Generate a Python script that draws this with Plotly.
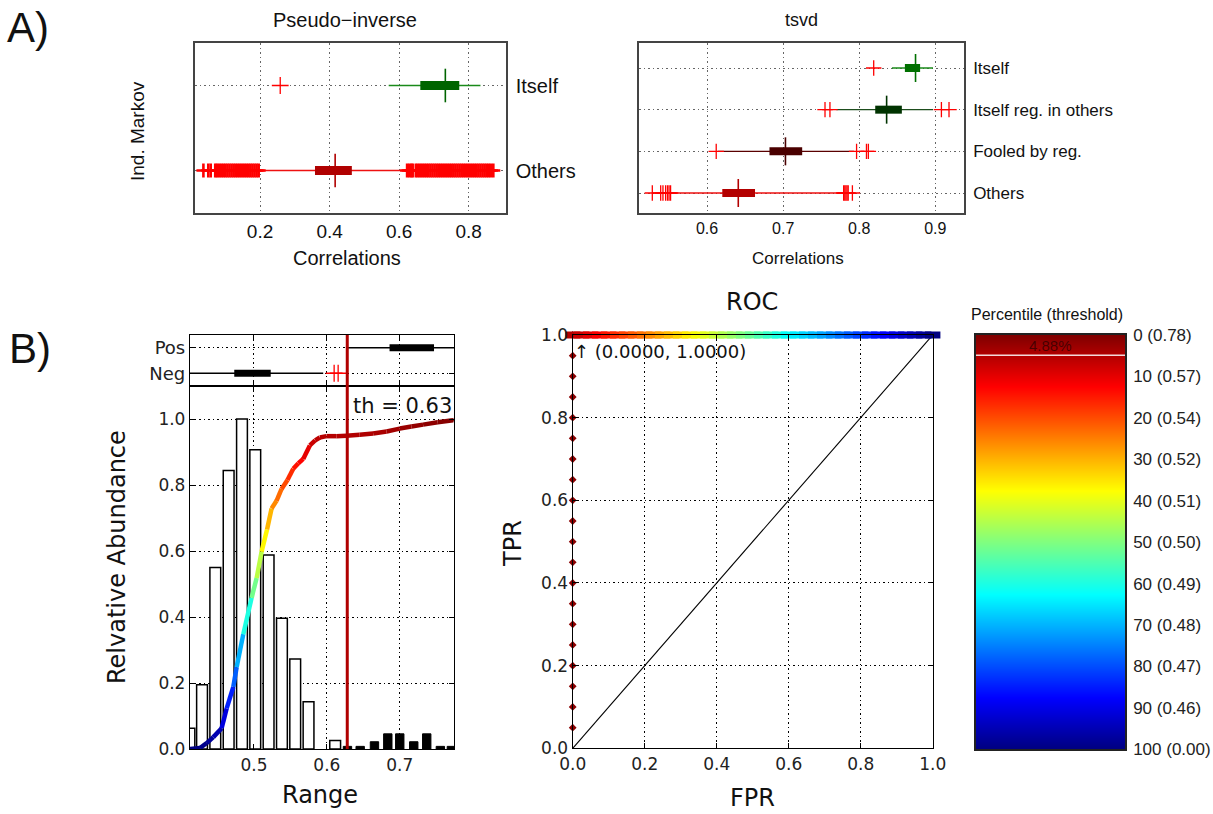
import plotly.graph_objects as go
from plotly.colors import sample_colorscale

W, H = 1213, 814

# ----------------------------- DATA -----------------------------
# Panel A (left): Pseudo-inverse, horizontal box plots
pinv_rows = ["Others", "Itself"]
pinv_lo = [0.200, 0.570]
pinv_q1 = [0.358, 0.661]
pinv_med = [0.416, 0.733]
pinv_q3 = [0.464, 0.773]
pinv_hi = [0.622, 0.834]
pinv_out_others = [0.037, 0.051, 0.058, 0.071, 0.076, 0.082, 0.088, 0.094, 0.100, 0.106,
                   0.112, 0.118, 0.124, 0.130, 0.136, 0.142, 0.148, 0.154, 0.160, 0.166,
                   0.172, 0.178, 0.184, 0.190, 0.196, 0.623, 0.629, 0.635, 0.639, 0.648,
                   0.654, 0.660, 0.666, 0.672, 0.678, 0.684, 0.690, 0.696, 0.702, 0.708,
                   0.714, 0.720, 0.726, 0.732, 0.738, 0.744, 0.750, 0.756, 0.762, 0.768,
                   0.774, 0.780, 0.786, 0.792, 0.798, 0.804, 0.810, 0.816, 0.822, 0.828,
                   0.834, 0.840, 0.846, 0.852, 0.858, 0.864, 0.871]
pinv_out_itself = [0.258]

# Panel A (right): tsvd
tsvd_rows = ["Others", "Fooled by reg.", "Itself reg. in others", "Itself"]
tsvd_lo = [0.553, 0.614, 0.770, 0.843]
tsvd_q1 = [0.620, 0.682, 0.821, 0.860]
tsvd_med = [0.641, 0.703, 0.836, 0.874]
tsvd_q3 = [0.663, 0.725, 0.856, 0.880]
tsvd_hi = [0.778, 0.793, 0.897, 0.897]
tsvd_out_others = [0.528, 0.539, 0.542, 0.5455, 0.548, 0.550, 0.552,
                   0.7795, 0.781, 0.7825, 0.784, 0.7855, 0.791]
tsvd_out_fooled = [0.612, 0.7965, 0.8095, 0.812]
tsvd_out_itselfreg = [0.755, 0.7615, 0.908, 0.918]
tsvd_out_itself = [0.819]

# Panel B (left, top strip): Pos / Neg box plots
bmini_rows = ["Neg", "Pos"]
bmini_lo = [0.400, 0.629]
bmini_q1 = [0.473, 0.686]
bmini_med = [0.500, 0.711]
bmini_q3 = [0.523, 0.747]
bmini_hi = [0.595, 0.790]
bmini_out_neg = [0.610, 0.6155]
threshold = 0.628

# Panel B (left): histograms of negatives (white) and positives (black)
neg_hist_x = [0.4115, 0.4288, 0.4470, 0.4653, 0.4836, 0.5018, 0.5201, 0.5384, 0.5566, 0.5749, 0.6114]
neg_hist_y = [0.063, 0.195, 0.550, 0.844, 1.000, 0.907, 0.588, 0.396, 0.273, 0.143, 0.026]
pos_hist_x = [0.6283, 0.6457, 0.6653, 0.6836, 0.7000, 0.7192, 0.7370, 0.7557, 0.7708]
pos_hist_y = [0.008, 0.008, 0.022, 0.046, 0.046, 0.022, 0.046, 0.008, 0.008]

# cumulative curve (coloured by value)
curve_x = [0.4123, 0.4260, 0.4352, 0.4443, 0.4557, 0.4626, 0.4717, 0.4763, 0.4854, 0.4968,
           0.5037, 0.5105, 0.5180, 0.5242, 0.5310, 0.5379, 0.5460, 0.5539, 0.5610, 0.5676,
           0.5767, 0.5840, 0.5904, 0.5995, 0.6130, 0.6269, 0.6450, 0.6635, 0.6820, 0.7000,
           0.7160, 0.7320, 0.7520, 0.7731, 0.7744]
curve_y = [0.000, 0.003, 0.018, 0.036, 0.063, 0.123, 0.188, 0.248, 0.348, 0.458,
           0.518, 0.598, 0.665, 0.729, 0.752, 0.788, 0.815, 0.849, 0.866, 0.879,
           0.920, 0.935, 0.944, 0.948, 0.948, 0.949, 0.952, 0.956, 0.962, 0.971,
           0.977, 0.983, 0.990, 0.996, 0.997]

# Panel B (middle): ROC
roc_left_tpr = [0.05, 0.10, 0.15, 0.20, 0.25, 0.30, 0.35, 0.40, 0.45, 0.50,
                0.55, 0.60, 0.65, 0.70, 0.75, 0.80, 0.85, 0.90, 0.95, 1.00]
roc_left_fpr = [0.0] * len(roc_left_tpr)
roc_top_fpr = [0.000, 0.025, 0.050, 0.075, 0.100, 0.125, 0.150, 0.175, 0.200, 0.225,
               0.250, 0.275, 0.300, 0.325, 0.350, 0.375, 0.400, 0.425, 0.450, 0.475,
               0.500, 0.525, 0.550, 0.575, 0.600, 0.625, 0.650, 0.675, 0.700, 0.725,
               0.750, 0.775, 0.800, 0.825, 0.850, 0.875, 0.900, 0.925, 0.950, 0.975, 1.000]
roc_top_tpr = [1.0] * len(roc_top_fpr)
chance_x = [0.0, 1.0]
chance_y = [0.0, 1.0]
roc_label = "↑ (0.0000, 1.0000)"

# Panel B (right): percentile colour bar
cbar_pct = [0, 10, 20, 30, 40, 50, 60, 70, 80, 90, 100]
cbar_thr = ["0.78", "0.57", "0.54", "0.52", "0.51", "0.50", "0.49", "0.48", "0.47", "0.46", "0.00"]
pos_pct = 4.88

# ----------------------------- STYLE -----------------------------
JET = [[0, "rgb(0,0,128)"], [0.125, "rgb(0,0,255)"], [0.375, "rgb(0,255,255)"],
       [0.625, "rgb(255,255,0)"], [0.875, "rgb(255,0,0)"], [1, "rgb(128,0,0)"]]
FA = "Liberation Sans"
FB = "DejaVu Sans"


def dx(a, b):
    return [a / W, b / W]


def dy(top, bottom):
    return [1 - bottom / H, 1 - top / H]


fig = go.Figure()


def hbox(xa, ya, pos, lo, q1, med, q3, hi, outs, box_col, wh_col,
         box_w=8, med_size=22, out_lw=1.3, out_size=11, wh_w=1.3):
    kw = dict(xaxis=xa, yaxis=ya, showlegend=False, hoverinfo="skip")
    fig.add_trace(go.Scatter(x=[lo, hi], y=[pos, pos], mode="lines",
                             line=dict(color=wh_col, width=wh_w), **kw))
    if outs:
        fig.add_trace(go.Scatter(x=outs, y=[pos] * len(outs), mode="markers", cliponaxis=False,
                                 marker=dict(symbol="cross-thin", size=out_size, color="#ff0000",
                                             line=dict(color="#ff0000", width=out_lw)), **kw))
    fig.add_trace(go.Scatter(x=[q1, q3], y=[pos, pos], mode="lines",
                             line=dict(color=box_col, width=box_w), **kw))
    if med_size:
        fig.add_trace(go.Scatter(x=[med], y=[pos], mode="markers", cliponaxis=False,
                                 marker=dict(symbol="line-ns", size=med_size, color=box_col,
                                             line=dict(color=box_col, width=1.6)), **kw))


# Panel A left
pinv_outs = [pinv_out_others, pinv_out_itself]
pinv_box_col = ["#b00000", "#006400"]
pinv_wh_col = ["#ee1111", "#1a8a1a"]
for i in range(len(pinv_rows)):
    hbox("x", "y", i + 1, pinv_lo[i], pinv_q1[i], pinv_med[i], pinv_q3[i], pinv_hi[i],
         pinv_outs[i], pinv_box_col[i], pinv_wh_col[i], box_w=9, med_size=24,
         out_lw=2.6 if i == 0 else 1.3, out_size=10 if i == 0 else 12)

# Panel A right
tsvd_outs = [tsvd_out_others, tsvd_out_fooled, tsvd_out_itselfreg, tsvd_out_itself]
tsvd_box_col = ["#b30000", "#4a0000", "#003300", "#007000"]
tsvd_wh_col = ["#ee1111", "#5a0000", "#1d4d1d", "#1a8a1a"]
for i in range(len(tsvd_rows)):
    hbox("x2", "y2", i + 1, tsvd_lo[i], tsvd_q1[i], tsvd_med[i], tsvd_q3[i], tsvd_hi[i],
         tsvd_outs[i], tsvd_box_col[i], tsvd_wh_col[i], box_w=8, med_size=20,
         out_lw=1.3, out_size=11)

# Panel B mini
bmini_outs = [bmini_out_neg, []]
for i in range(len(bmini_rows)):
    hbox("x3", "y3", i + 1, bmini_lo[i], bmini_q1[i], bmini_med[i], bmini_q3[i], bmini_hi[i],
         bmini_outs[i], "#000000", "#000000", box_w=7, med_size=0, out_lw=1.3, out_size=12,
         wh_w=1.5)

# Histograms
fig.add_trace(go.Bar(x=neg_hist_x, y=neg_hist_y, width=0.0148, xaxis="x4", yaxis="y4",
                     marker=dict(color="white", line=dict(color="black", width=1.5)),
                     showlegend=False, hoverinfo="skip"))
fig.add_trace(go.Bar(x=pos_hist_x, y=pos_hist_y, width=0.0115, xaxis="x4", yaxis="y4",
                     marker=dict(color="black", line=dict(color="black", width=1)),
                     showlegend=False, hoverinfo="skip"))

# Coloured cumulative curve
seg_cols = sample_colorscale(JET, [min(1.0, (curve_y[i] + curve_y[i + 1]) / 2)
                                   for i in range(len(curve_x) - 1)])
for i in range(len(curve_x) - 1):
    fig.add_trace(go.Scatter(x=curve_x[i:i + 2], y=curve_y[i:i + 2], mode="lines",
                             line=dict(color=seg_cols[i], width=4.5), xaxis="x4", yaxis="y4",
                             showlegend=False, hoverinfo="skip"))

# ROC
fig.add_trace(go.Scatter(x=chance_x, y=chance_y, mode="lines", line=dict(color="black", width=1.1),
                         xaxis="x5", yaxis="y5", showlegend=False, hoverinfo="skip"))
fig.add_trace(go.Scatter(x=roc_left_fpr, y=roc_left_tpr, mode="markers", cliponaxis=False,
                         marker=dict(symbol="diamond", size=6, color="#8b0000"),
                         xaxis="x5", yaxis="y5", showlegend=False, hoverinfo="skip"))
top_cols = sample_colorscale(JET, [1 - (pos_pct + f * (100 - pos_pct)) / 100 for f in roc_top_fpr])
fig.add_trace(go.Scatter(x=roc_top_fpr, y=roc_top_tpr, mode="markers", cliponaxis=False,
                         marker=dict(symbol="line-ew", size=11, color=top_cols,
                                     line=dict(color=top_cols, width=7)),
                         xaxis="x5", yaxis="y5", showlegend=False, hoverinfo="skip"))

# Colour bar (percentile)
fig.add_trace(go.Heatmap(x=[0, 1], y=cbar_pct, z=[[p, p] for p in cbar_pct], zsmooth="best",
                         colorscale=JET, reversescale=True, zmin=0, zmax=100, showscale=False,
                         xaxis="x6", yaxis="y6", hoverinfo="skip"))

# ----------------------------- LAYOUT -----------------------------
dot = "1.5px,3px"


def ax_a(domain, rng, size, anchor, grid="#666"):
    return dict(domain=domain, range=rng, showline=True, mirror=True, linecolor="#444",
                linewidth=1.5, showgrid=True, gridcolor=grid, griddash=dot, gridwidth=1,
                zeroline=False, ticks="", tickfont=dict(family=FA, size=size, color="#111"),
                anchor=anchor, fixedrange=True, automargin=False)


def ax_b(domain, rng, anchor, show=True, grid="#000", size=17):
    return dict(domain=domain, range=rng, showline=True, mirror="ticks", linecolor="black",
                linewidth=1.3, showgrid=True, gridcolor=grid, griddash=dot, gridwidth=1,
                zeroline=False, ticks="inside", ticklen=5, tickcolor="black",
                showticklabels=show, tickfont=dict(family=FB, size=size, color="#222"),
                anchor=anchor, fixedrange=True, automargin=False)


layout = dict(width=W, height=H,
              margin=dict(l=0, r=0, t=0, b=0, pad=0, autoexpand=False),
              paper_bgcolor="white", plot_bgcolor="white", showlegend=False,
              barmode="overlay", autosize=False)

layout["xaxis"] = ax_a(dx(195, 506), [0.0128, 0.9075], 19, "y")
layout["xaxis"].update(tickvals=[0.2, 0.4, 0.6, 0.8], ticktext=["0.2", "0.4", "0.6", "0.8"])
layout["yaxis"] = ax_a(dy(43, 213), [0.5, 2.5], 20, "x")
layout["yaxis"].update(tickvals=[1, 2], ticktext=pinv_rows, side="right", ticklabelstandoff=4)

layout["xaxis2"] = ax_a(dx(639, 964), [0.5105, 0.9377], 16, "y2")
layout["xaxis2"].update(tickvals=[0.6, 0.7, 0.8, 0.9], ticktext=["0.6", "0.7", "0.8", "0.9"])
layout["yaxis2"] = ax_a(dy(43, 213), [0.52, 4.6], 17, "x2")
layout["yaxis2"].update(tickvals=[1, 2, 3, 4], ticktext=tsvd_rows, side="right", ticklabelstandoff=4)

layout["xaxis3"] = ax_b(dx(190, 454), [0.4123, 0.7744], "y3", show=False)
layout["xaxis3"].update(tickvals=[0.5, 0.6, 0.7])
layout["yaxis3"] = ax_b(dy(335, 386), [0.5, 2.5], "x3", size=18)
layout["yaxis3"].update(tickvals=[1, 2], ticktext=bmini_rows)

layout["xaxis4"] = ax_b(dx(190, 454), [0.4123, 0.7744], "y4")
layout["xaxis4"].update(tickvals=[0.5, 0.6, 0.7], ticktext=["0.5", "0.6", "0.7"])
layout["yaxis4"] = ax_b(dy(386, 749), [0, 1.1], "x4")
layout["yaxis4"].update(tickvals=[0, 0.2, 0.4, 0.6, 0.8, 1.0],
                        ticktext=["0.0", "0.2", "0.4", "0.6", "0.8", "1.0"])

ticks01 = [0, 0.2, 0.4, 0.6, 0.8, 1.0]
ticks01_t = ["0.0", "0.2", "0.4", "0.6", "0.8", "1.0"]
layout["xaxis5"] = ax_b(dx(572.7, 932.7), [0, 1], "y5")
layout["xaxis5"].update(tickvals=ticks01, ticktext=ticks01_t)
layout["yaxis5"] = ax_b(dy(335, 748.3), [0, 1], "x5")
layout["yaxis5"].update(tickvals=ticks01, ticktext=ticks01_t)

layout["xaxis6"] = dict(domain=dx(976, 1125), range=[0, 1], showline=True, mirror=True,
                        linecolor="#222", linewidth=1.5, showgrid=False, zeroline=False,
                        showticklabels=False, ticks="", anchor="y6", fixedrange=True,
                        automargin=False)
layout["yaxis6"] = dict(domain=dy(335, 749.3), range=[100, 0], showline=True, mirror=True,
                        linecolor="#222", linewidth=1.5, showgrid=False, zeroline=False,
                        side="right", tickvals=cbar_pct,
                        ticktext=[f"{p} ({t})" for p, t in zip(cbar_pct, cbar_thr)],
                        tickfont=dict(family=FA, size=17, color="#222"), ticks="",
                        ticklabelstandoff=3, anchor="x6", fixedrange=True, automargin=False)


def ann(text, x, y, size, family=FA, angle=0, xanchor="center", yanchor="middle", color="#111"):
    return dict(text=text, x=x / W, y=1 - y / H, xref="paper", yref="paper", showarrow=False,
                font=dict(family=family, size=size, color=color), textangle=angle,
                xanchor=xanchor, yanchor=yanchor)


layout["annotations"] = [
    ann("A)", 28, 27, 42),
    ann("B)", 30, 348, 42),
    ann("Pseudo\u2212inverse", 345, 20, 20),
    ann("tsvd", 801, 20, 18),
    ann("Ind. Markov", 138, 131, 19, angle=-90),
    ann("Correlations", 347, 258, 20),
    ann("Correlations", 798, 258, 17),
    ann("Relvative Abundance", 117, 557, 24, family=FB, angle=-90),
    ann("Range", 320, 795, 24, family=FB),
    ann("th = 0.63", 454, 406, 21, family=FB, xanchor="right"),
    ann("ROC", 752, 302, 24, family=FB),
    ann("TPR", 513, 544, 24, family=FB, angle=-90),
    ann("FPR", 752, 798, 24, family=FB),
    ann(roc_label, 572, 351, 18, family=FB, xanchor="left"),
    ann("Percentile (threshold)", 1047, 314, 16),
    dict(text=f"{pos_pct:.2f}%", x=0.5, y=pos_pct / 2, xref="x6", yref="y6", showarrow=False,
         font=dict(family=FA, size=15, color="rgba(0,0,0,0.55)")),
]

layout["shapes"] = [
    dict(type="line", xref="x4", yref="paper", x0=threshold, x1=threshold,
         y0=1 - 749 / H, y1=1 - 335 / H, line=dict(color="#b00000", width=3)),
    dict(type="line", xref="x6", yref="y6", x0=0, x1=1, y0=pos_pct, y1=pos_pct,
         line=dict(color="#f4dada", width=1.5)),
]

fig.update_layout(**layout)

fit_js = (
    "document.documentElement.style.margin='0';document.documentElement.style.padding='0';"
    "document.documentElement.style.overflow='hidden';"
    "document.body.style.margin='0';document.body.style.padding='0';"
    "document.body.style.overflow='hidden';"
)
fig.write_html("out.html", config={"displayModeBar": False, "responsive": False},
               post_script=fit_js)
